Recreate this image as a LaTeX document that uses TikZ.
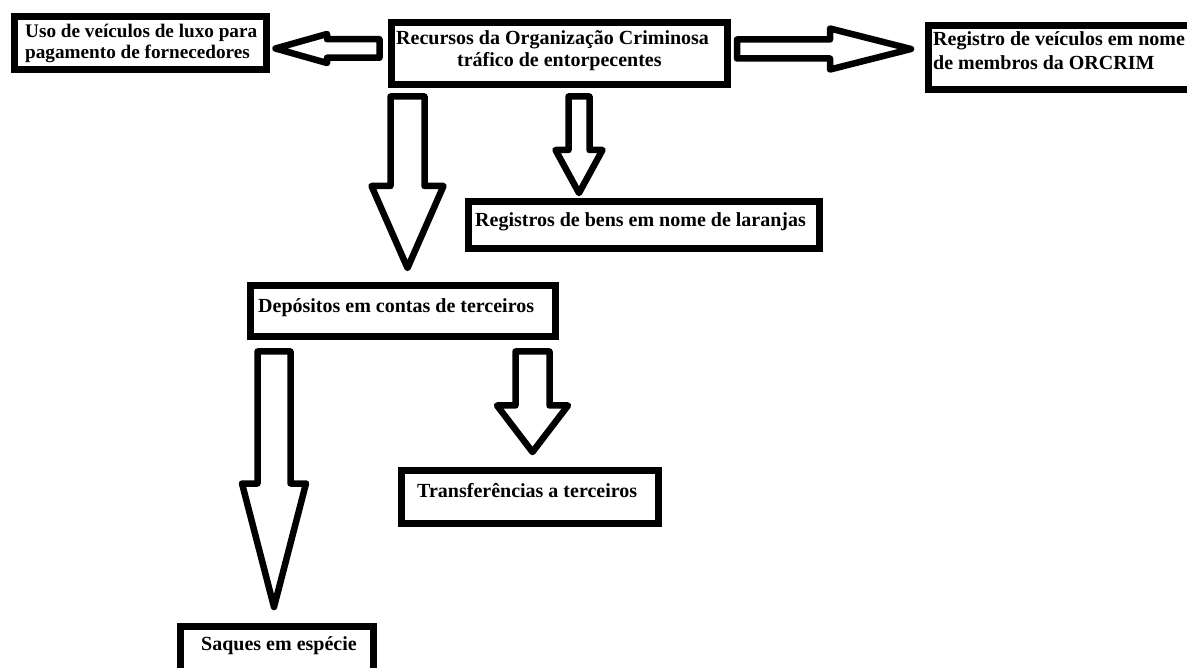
\documentclass[tikz,border=0pt]{standalone}
\usepackage{fontspec}
\setmainfont{Liberation Serif}
\begin{document}
\begin{tikzpicture}[x=1pt,y=-1pt,
  box/.style={draw=black,line width=7pt,fill=white,inner sep=0pt,rectangle},
  lbl/.style={anchor=base west,inner sep=0pt,font=\fontsize{20}{22}\selectfont\bfseries,text=black},
  smalllbl/.style={lbl,font=\fontsize{19.2}{21}\selectfont\bfseries},
  barrow/.style={draw=black,line width=6.5pt,fill=white,line join=round}]
% vertical block arrow: x, y tail, y head base, y tip, shaft half width, head half width
\newcommand\vblock[6]{\draw[barrow] ({#1-#5},#2) -- ({#1-#5},#3) -- ({#1-#6},#3) -- (#1,#4)
  -- ({#1+#6},#3) -- ({#1+#5},#3) -- ({#1+#5},#2) -- cycle;}
% horizontal block arrow: y, x tail, x head base, x tip, shaft half width, head half width
\newcommand\hblock[6]{\draw[barrow] (#2,{#1-#5}) -- (#3,{#1-#5}) -- (#3,{#1-#6}) -- (#4,#1)
  -- (#3,{#1+#6}) -- (#3,{#1+#5}) -- (#2,{#1+#5}) -- cycle;}
\useasboundingbox (0,0) rectangle (1187,668);
\clip (0,0) rectangle (1187,668);
\fill[white] (0,0) rectangle (1187,668);

% boxes
\node[box,minimum width=252pt,minimum height=53pt] (uso) at (140.5,43) {};
\node[box,minimum width=336pt,minimum height=62pt] (rec) at (559.5,53.5) {};
\node[box,minimum width=281.5pt,minimum height=64pt] (reg) at (1069.25,57.5) {};
\node[box,minimum width=351pt,minimum height=47pt] (bens) at (644,225) {};
\node[box,minimum width=305pt,minimum height=51pt] (dep) at (403,311) {};
\node[box,minimum width=257pt,minimum height=53pt] (transf) at (530,497) {};
\node[box,minimum width=193pt,minimum height=73.5pt] (saq) at (277,663.25) {};

% texts
\node[smalllbl] (uso1) at (25,37.7) {Uso de veículos de luxo para};
\node[smalllbl] (uso2) at (25,59) {pagamento de fornecedores};
\node[lbl] (rec1) at (396,44.7) {Recursos da Organização Criminosa};
\node[lbl] (rec2) at (457,67) {tráfico de entorpecentes};
\node[lbl] (reg1) at (933,46) {Registro de veículos em nome};
\node[lbl] (reg2) at (933,70) {de membros da ORCRIM};
\node[lbl] (bens1) at (475,226.7) {Registros de bens em nome de laranjas};
\node[lbl] (dep1) at (258,313) {Depósitos em contas de terceiros};
\node[lbl] (transf1) at (417,497.3) {Transferências a terceiros};
\node[lbl] (saq1) at (201,650) {Saques em espécie};

% block arrows
\hblock{48.5}{379.5}{327}{275.5}{9.25}{14.5}
\hblock{49}{737}{830}{911}{9.5}{20.5}
\vblock{407.5}{96.5}{186}{268}{17}{36}
\vblock{579}{96.5}{150}{193}{10.5}{23.5}
\vblock{274}{351.5}{483.5}{607}{16.5}{32}
\vblock{532.5}{351.5}{405.5}{452}{17}{35.5}
\end{tikzpicture}
\end{document}
